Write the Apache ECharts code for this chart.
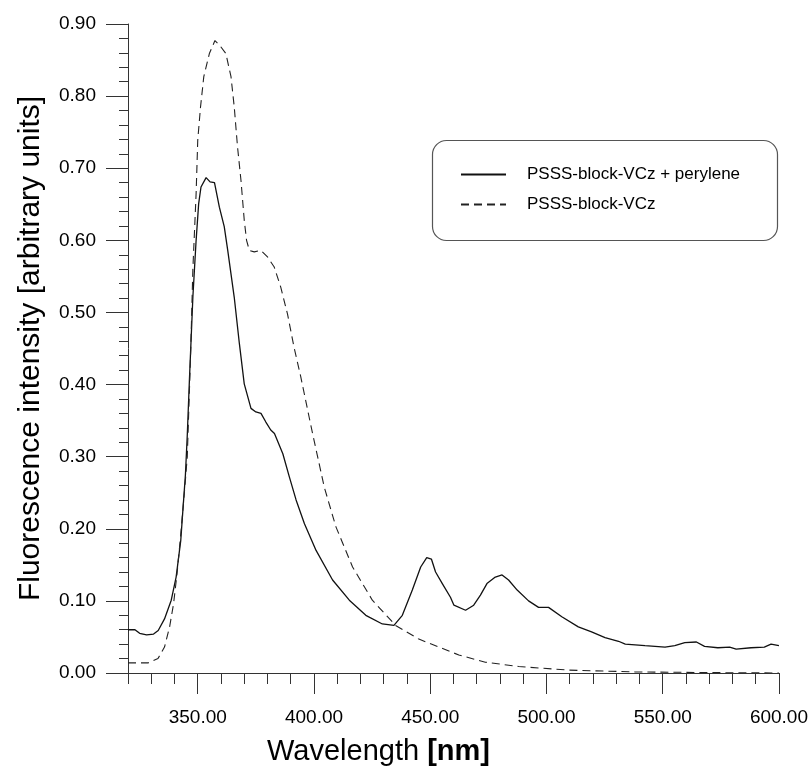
<!DOCTYPE html>
<html>
<head>
   <meta charset="utf-8">
   <title>Fluorescence</title>
   <script type="text/javascript" src="https://cdn.jsdelivr.net/npm/echarts@6/dist/echarts.min.js"></script>
   <style>
      html, body {margin: 0; padding: 0; background: #fff;}
      #chart {width: 811px; height: 779px;}
   </style>
</head>
<body>
<div id="chart"></div>
<script>
	// wavelength [nm] / intensity pairs
	var wlPerylene = [320, 323, 325, 328, 331, 333, 335.7, 338.6, 340.7, 342.7, 343.7, 344.7, 345.5, 346.4, 347.9, 349.3, 350.4, 351.4, 353.6, 355.3, 357.2, 359.3, 361.4, 362.9, 365.7, 367.9, 370, 372.9, 375, 377.2, 379.3, 381.4, 383, 386.6, 389.4, 392.3, 395.9, 400.9, 408, 415.2, 422.3, 429.4, 434.4, 438, 442.3, 445.9, 448.5, 450.5, 452.3, 455.2, 458.7, 460.2, 465.2, 468.7, 471.6, 474.4, 478, 480.9, 483.7, 487.4, 492.3, 496.6, 500.9, 506.6, 513.7, 519.4, 525.2, 531, 533.9, 542.4, 551, 555.2, 559.5, 564.5, 568, 573.7, 578.8, 581.6, 588, 593.7, 596.6, 600];
	var intPerylene = [0.060, 0.060, 0.055, 0.053, 0.054, 0.059, 0.075, 0.101, 0.133, 0.184, 0.230, 0.275, 0.330, 0.405, 0.521, 0.600, 0.651, 0.674, 0.687, 0.681, 0.680, 0.646, 0.619, 0.586, 0.521, 0.457, 0.401, 0.367, 0.362, 0.360, 0.348, 0.337, 0.332, 0.304, 0.272, 0.240, 0.207, 0.170, 0.129, 0.101, 0.080, 0.068, 0.066, 0.080, 0.115, 0.147, 0.160, 0.158, 0.140, 0.124, 0.105, 0.094, 0.087, 0.094, 0.108, 0.124, 0.133, 0.136, 0.129, 0.115, 0.100, 0.091, 0.091, 0.078, 0.064, 0.057, 0.049, 0.044, 0.040, 0.038, 0.036, 0.038, 0.042, 0.043, 0.037, 0.035, 0.036, 0.033, 0.035, 0.036, 0.040, 0.038];

	var wlVCz = [320, 328.6, 332.9, 335.7, 337.9, 339.6, 341.1, 342.6, 344.5, 345.5, 347, 347.9, 349.3, 350, 351.2, 352.6, 355, 357.4, 359.3, 362.1, 364.3, 365.7, 367.1, 368.6, 370, 371, 372.2, 374.3, 377.2, 380, 382.9, 385.7, 388.6, 391.4, 394.3, 397.9, 399.4, 404.4, 409.4, 416.6, 425.1, 435.1, 445.1, 453.7, 462.3, 473.7, 488, 509.5, 538, 573.7, 600];
	var intVCz = [0.014, 0.014, 0.020, 0.036, 0.064, 0.096, 0.138, 0.189, 0.260, 0.300, 0.450, 0.560, 0.665, 0.739, 0.785, 0.827, 0.859, 0.877, 0.871, 0.859, 0.827, 0.785, 0.730, 0.683, 0.628, 0.600, 0.586, 0.584, 0.586, 0.577, 0.563, 0.535, 0.498, 0.452, 0.411, 0.355, 0.332, 0.258, 0.203, 0.147, 0.101, 0.066, 0.047, 0.036, 0.025, 0.015, 0.009, 0.004, 0.0015, 0.0005, 0];

	var seriesNames = ['PSSS-block-VCz + perylene', 'PSSS-block-VCz'];
	var xMajorTicks = [350, 400, 450, 500, 550, 600];

	function zip(xs, ys) {
		return xs.map(function (x, i) { return [x, ys[i]]; });
	}

	var font = "'Liberation Sans', Arial, sans-serif";
	var chart = echarts.init(document.getElementById('chart'), null, {renderer: 'canvas'});

	var option = {
	    backgroundColor: '#fff',
	    animation: false,
	    textStyle: {fontFamily: font, color: '#000'},
	    grid: {left: 128, right: 30, top: 24, bottom: 106, containLabel: false},
	    graphic: [{
	        type: 'rect',
	        left: 430, top: 138,
	        shape: {width: 345, height: 100, r: 14},
	        style: {fill: 'none', stroke: '#555', lineWidth: 1.2}
	    }],
	    legend: {
	        data: seriesNames,
	        orient: 'vertical',
	        left: 460, top: 166,
	        itemWidth: 45, itemHeight: 14, itemGap: 13,
	        padding: 0,
	        itemStyle: {opacity: 0},
	        textStyle: {fontFamily: font, fontSize: 17, color: '#000', padding: [0, 0, 0, 16]}
	    },
	    xAxis: [{
	        type: 'value',
	        min: 320, max: 600,
	        name: '{a|Wavelength }{b|[nm]}',
	        nameLocation: 'middle',
	        nameGap: 64,
	        nameTextStyle: {
	            padding: [0, 150, 0, 0],
	            rich: {
	                a: {fontFamily: font, fontSize: 29, color: '#000'},
	                b: {fontFamily: font, fontSize: 29, fontWeight: 'bold', color: '#000'}
	            }
	        },
	        axisLine: {lineStyle: {color: '#333', width: 1}},
	        axisTick: {customValues: xMajorTicks, length: 21, lineStyle: {color: '#333'}},
	        axisLabel: {
	            customValues: xMajorTicks,
	            margin: 35,
	            fontSize: 19, color: '#000', fontFamily: font,
	            formatter: function (v) { return v.toFixed(2); }
	        },
	        splitLine: {show: false}
	    }, {
	        // minor ticks every 10 nm
	        type: 'value',
	        min: 320, max: 600, interval: 10,
	        position: 'bottom',
	        axisLine: {show: false},
	        axisTick: {length: 11, lineStyle: {color: '#333'}},
	        axisLabel: {show: false},
	        splitLine: {show: false}
	    }],
	    yAxis: {
	        type: 'value',
	        min: 0, max: 0.9, interval: 0.1,
	        name: 'Fluorescence intensity [arbitrary units]',
	        nameLocation: 'middle',
	        nameGap: 82,
	        nameTextStyle: {fontFamily: font, fontSize: 30, color: '#000'},
	        axisLine: {show: true, lineStyle: {color: '#333', width: 1}},
	        axisTick: {show: true, length: 22, lineStyle: {color: '#333'}},
	        minorTick: {show: true, splitNumber: 5, length: 9, lineStyle: {color: '#333'}},
	        axisLabel: {
	            margin: 32,
	            fontSize: 19, color: '#000', fontFamily: font,
	            formatter: function (v) { return v.toFixed(2); }
	        },
	        splitLine: {show: false}
	    },
	    series: [{
	        name: seriesNames[0],
	        type: 'line',
	        data: zip(wlPerylene, intPerylene),
	        symbol: 'none',
	        lineStyle: {color: '#111', width: 1.3, type: 'solid'},
	        itemStyle: {color: '#111'}
	    }, {
	        name: seriesNames[1],
	        type: 'line',
	        data: zip(wlVCz, intVCz),
	        symbol: 'none',
	        lineStyle: {color: '#222', width: 1.1, type: [8, 5]},
	        itemStyle: {color: '#222'}
	    }]
	};
	chart.setOption(option);
</script>
</body>
</html>
